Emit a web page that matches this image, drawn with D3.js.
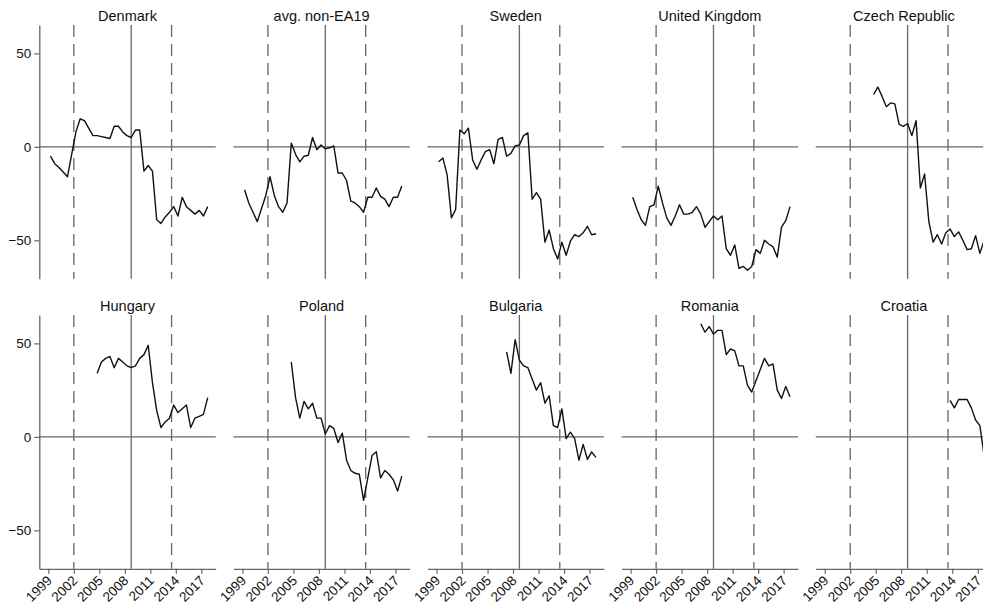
<!DOCTYPE html>
<html><head><meta charset="utf-8">
<script src="https://cdn.jsdelivr.net/npm/d3@7"></script>
<style>body{margin:0;background:#fff} svg{display:block}</style>
</head><body><svg id="c" width="983" height="607"></svg>
<script>
// semiannual periods (mid-half positions)
const periods = [1999.25,1999.75,2000.25,2000.75,2001.25,2001.75,2002.25,2002.75,2003.25,2003.75,
  2004.25,2004.75,2005.25,2005.75,2006.25,2006.75,2007.25,2007.75,2008.25,2008.75,
  2009.25,2009.75,2010.25,2010.75,2011.25,2011.75,2012.25,2012.75,2013.25,2013.75,
  2014.25,2014.75,2015.25,2015.75,2016.25,2016.75,2017.25,2017.75];

const countries = ["Denmark","avg. non-EA19","Sweden","United Kingdom","Czech Republic",
                   "Hungary","Poland","Bulgaria","Romania","Croatia"];

const denmark = [-5,-9,-11,-13.5,-16,-4,8,15,14,10,6,6,5.5,5,4.5,11,11,8,6,5,9,9,-13,-10,-13,-39,-41,-37.5,-35,-32,-37,-27,-32,-34,-36,-34,-37,-32];
const avgNonEA19 = [-23,-30,-35,-40,-33,-26,-16,-26,-32,-35,-30,2,-4,-8,-5,-4.5,5,-1.5,1,-1,-0.5,0.5,-14,-14,-18,-29,-30,-32,-35,-27,-27,-22,-26.5,-28,-32,-27,-27,-21];
const sweden = [-8,-6,-15,-38,-33.5,9,7,10,-7,-12,-7,-2.5,-1.5,-9,4,5,-5,-3.5,0.5,1,6,7.5,-28,-24.5,-28,-51,-44.5,-54.5,-60,-51,-58,-50.5,-47,-48,-46,-42.5,-47,-46.5];
const unitedKingdom = [-27,-33.5,-39,-42,-32,-31,-21,-30,-38,-42,-37,-31,-36,-36,-35,-32,-36,-43,-40,-37,-39,-37,-54.5,-58,-52.5,-65,-64,-66,-64,-55,-57,-50,-52,-53.5,-59,-43,-39.5,-32];
const czechRepublic = [null,null,null,null,null,null,null,null,null,null,null,
  28,32,27,21.5,23.5,23,12,11,12.5,6,14,-22,-14.5,-40,-51,-47,-52,-46,-44,-48,-45.5,-50,-55,-54.5,-47.5,-57,-50];
const hungary = [null,null,null,null,null,null,null,null,null,null,null,
  34,40,42,43,37,42,40,38,37,38,42,44,49,29,14,5,8,10,17,13,15,17,5,10,11,12,21];
const poland = [null,null,null,null,null,null,null,null,null,null,null,
  40,21,10,19,15,18,10,10,1.5,6,4.5,-3,2,-12.5,-18,-19.5,-20,-34,-22,-10,-8,-22,-18,-20,-23,-29,-21];
const bulgaria = [null,null,null,null,null,null,null,null,null,null,null,null,null,null,null,null,
  45.5,34,52,41,38,37,31,25,29,18,22,6,5,15,-1,2.5,-1,-12.5,-4,-12,-8,-11];
const romania = [null,null,null,null,null,null,null,null,null,null,null,null,null,null,null,null,
  60.5,56,59,55,57,57,44,47,46,38,38,27.5,24,30,36,42,38,39,25,20.5,27,21.5];
const croatia = [null,null,null,null,null,null,null,null,null,null,null,null,null,null,null,null,
  null,null,null,null,null,null,null,null,null,null,null,null,null,
  19.5,15.5,20,20,20,15.5,9,6,-10];

const seriesList = [denmark, avgNonEA19, sweden, unitedKingdom, czechRepublic,
                    hungary, poland, bulgaria, romania, croatia];

const xTickValues = [1999,2002,2005,2008,2011,2014,2017];
const yTickValues = [50,0,-50];
const dashedRefs = [2002, 2013.5];
const solidRefs = [2008.75];

// layout
const svg = d3.select("#c");
const font = "'Liberation Sans', Arial, Helvetica, sans-serif";
const plotW = 176.4, plotH = 253.8;
const panelStep = 194.1, firstLeft = 39.3;
const rowTops = [25, 315];

const x = d3.scaleLinear().domain([1997.94, 2018.69]).range([0, plotW]);
const y = d3.scaleLinear().domain([-70.6, 65.2]).range([plotH, 0]);

const refColor = "#666";

countries.forEach((name, idx) => {
  const row = Math.floor(idx / 5), col = idx % 5;
  const g = svg.append("g").attr("transform", `translate(${firstLeft + col*panelStep},${rowTops[row]})`);

  // title
  g.append("text").attr("x", plotW/2).attr("y", -4.5)
    .attr("text-anchor", "middle").attr("font-family", font).attr("font-size", 14.5)
    .attr("fill", "#111").text(name);

  // zero line
  g.append("line").attr("x1", 0).attr("x2", plotW).attr("y1", y(0)).attr("y2", y(0))
    .attr("stroke", refColor).attr("stroke-width", 1.3);

  // vertical reference lines
  dashedRefs.forEach(v => {
    g.append("line").attr("x1", x(v)).attr("x2", x(v)).attr("y1", 0).attr("y2", plotH)
      .attr("stroke", refColor).attr("stroke-width", 1.3).attr("stroke-dasharray", "12,7");
  });
  solidRefs.forEach(v => {
    g.append("line").attr("x1", x(v)).attr("x2", x(v)).attr("y1", 0).attr("y2", plotH)
      .attr("stroke", refColor).attr("stroke-width", 1.3);
  });

  // data line
  const data = periods.map((p, i) => ({p, v: seriesList[idx][i]}));
  const line = d3.line().defined(d => d.v !== null).x(d => x(d.p)).y(d => y(d.v));
  g.append("path").datum(data).attr("d", line)
    .attr("fill", "none").attr("stroke", "#111").attr("stroke-width", 1.4)
    .attr("stroke-linejoin", "round");

  // y axis on first column
  if (col === 0) {
    const ya = g.append("g").call(d3.axisLeft(y).tickValues(yTickValues).tickSize(5).tickSizeOuter(0).tickPadding(3));
    ya.select(".domain").attr("stroke", refColor).attr("stroke-width", 1.3);
    ya.selectAll(".tick line").attr("stroke", refColor).attr("stroke-width", 1.2);
    ya.selectAll(".tick text").attr("font-family", font).attr("font-size", 13.5).attr("fill", "#111");
  }

  // x axis on bottom row
  if (row === 1) {
    const xa = g.append("g").attr("transform", `translate(0,${plotH})`)
      .call(d3.axisBottom(x).tickValues(xTickValues).tickSize(5).tickSizeOuter(0).tickFormat(d3.format("d")));
    xa.select(".domain").attr("stroke", refColor).attr("stroke-width", 1.3);
    xa.selectAll(".tick line").attr("stroke", refColor).attr("stroke-width", 1.2);
    xa.selectAll(".tick text").attr("font-family", font).attr("font-size", 13.5).attr("fill", "#111")
      .attr("text-anchor", "end").attr("x", -6).attr("y", 7).attr("dy", "0.35em")
      .attr("transform", "rotate(-45)");
  }
});
</script></body></html>
